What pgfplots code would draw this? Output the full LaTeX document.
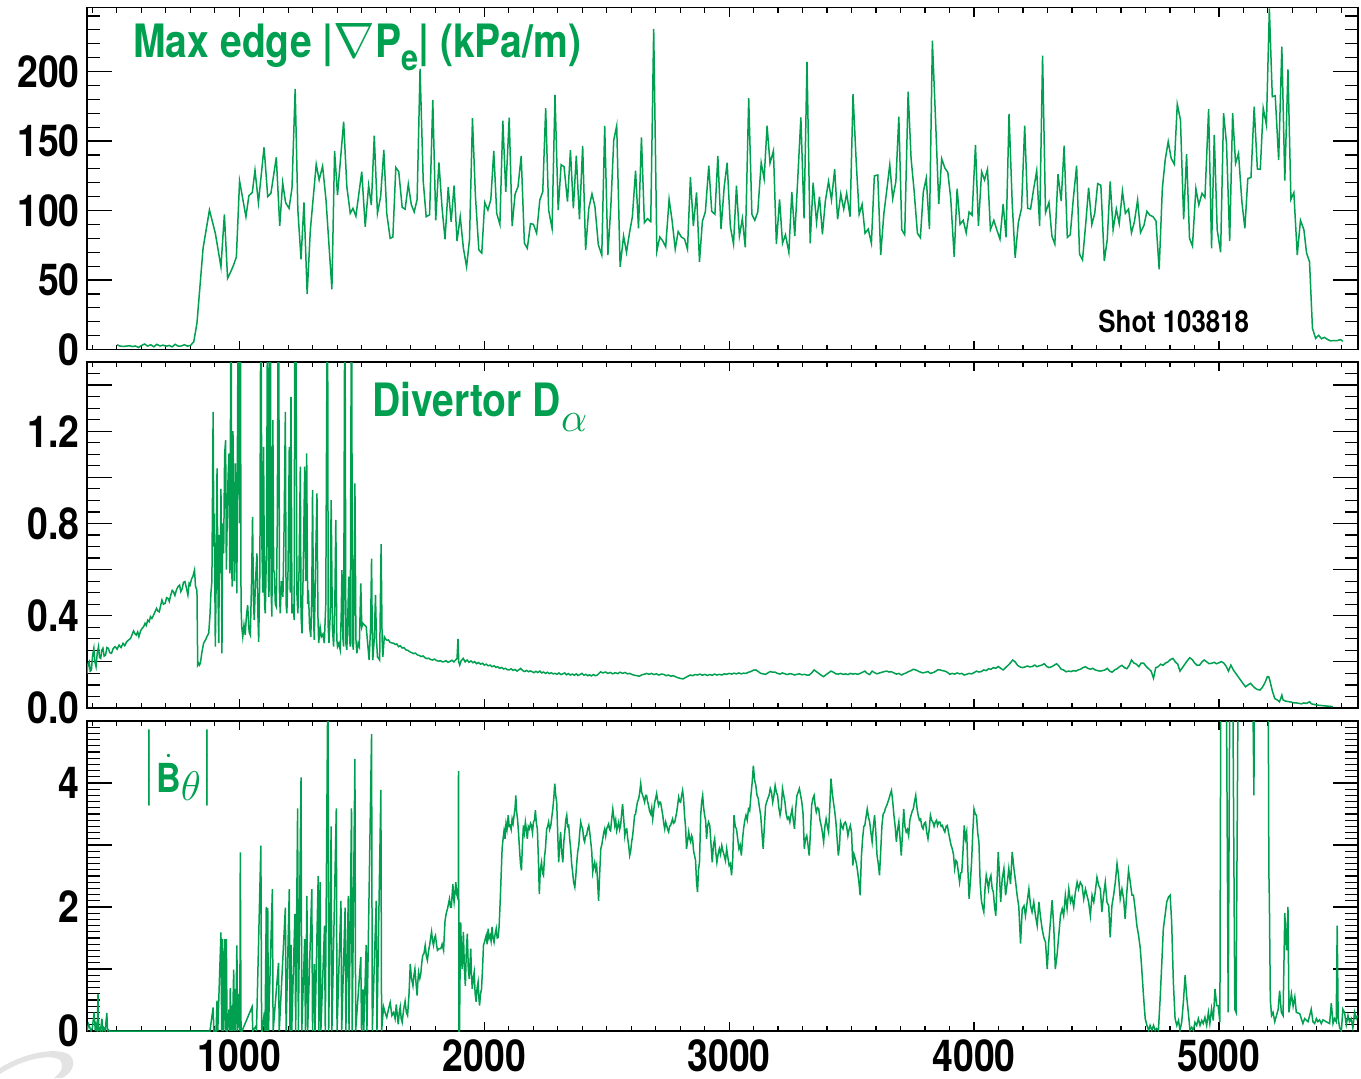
\documentclass[border=0pt]{standalone}
\usepackage{amsmath}
\usepackage{fontspec}
\setmainfont{TeX Gyre Heros}[FakeStretch=0.85]
\usepackage{pgfplots}
\pgfplotsset{compat=1.18}
\definecolor{dgreen}{RGB}{0,160,80}
\pgfplotsset{
  panel/.style={scale only axis, width=635.5pt, xmin=378, xmax=5568,
    xtick={1000,2000,3000,4000,5000}, minor xtick={400,500,...,5500},
    tick align=inside, xtick pos=both, ytick pos=both, ticklabel pos=left,
    axis line style={line width=0.8pt, black},
    x tick style={/pgfplots/major tick length=4.5pt,/pgfplots/minor tick length=2.5pt, line width=0.6pt, black},
    y tick style={/pgfplots/major tick length=12.5pt,/pgfplots/minor tick length=6.5pt, line width=0.6pt, black},
    ticklabel style={font=\fontsize{22}{24}\selectfont\bfseries},
    yticklabel style={inner sep=0pt, xshift=-3.5pt},
    xticklabel style={inner sep=0pt, yshift=-4pt},
  },
  trace/.style={dgreen, line width=0.75pt, mark=none},
}
\begin{document}
\begin{tikzpicture}
\path[use as bounding box] (0,0) rectangle (680.5pt,539pt);
% faint logo swoosh in the bottom-left corner
\fill[gray!22] (0pt,5pt) .. controls (14pt,14pt) and (33pt,16pt) .. (36pt,10pt)
  .. controls (38pt,6pt) and (35pt,2pt) .. (31pt,0pt) -- (27pt,0pt)
  .. controls (31pt,3pt) and (32pt,6pt) .. (30pt,9pt)
  .. controls (26pt,12pt) and (12pt,10pt) .. (0pt,2pt) -- cycle;
% ---------------- Panel 1 ----------------
\begin{axis}[panel, at={(43.5pt,364.2pt)}, anchor=south west, height=171pt,
  ymin=0, ymax=246, ytick={0,50,100,150,200}, yticklabels={0,50,100,150,200},
  minor ytick={10,20,...,240}, xticklabels={}]
\addplot[trace] table[row sep=\\] {
x y\\
501 3.5\\ 513 2.5\\ 526 2.3\\ 538 2.5\\ 551 2.8\\ 563 2.2\\ 576 2.6\\ 588 1.5\\ 601 3.0\\ 613 4.0\\
626 2.5\\ 638 3.5\\ 651 2.0\\ 663 3.8\\ 676 2.6\\ 688 3.2\\ 701 2.4\\ 713 3.0\\ 726 2.0\\ 738 3.8\\
751 2.4\\ 763 2.6\\ 776 3.5\\ 788 2.5\\ 801 3.0\\ 814 5.7\\ 827 19\\ 852 72.9\\ 878 100.4\\ 902 83.7\\
925 59.6\\ 939 97.3\\ 952 51.3\\ 965 56\\ 977 61\\ 988 66.8\\ 1001 121.3\\ 1027 95.6\\ 1039 110.7\\ 1053 113\\
1064 129\\ 1078 105.7\\ 1101 145.5\\ 1116 110\\ 1129 112.4\\ 1151 138.3\\ 1165 89\\ 1177 120\\ 1189 105.7\\ 1203 101.6\\
1215 116\\ 1228 187.5\\ 1239 100.4\\ 1252 65\\ 1264 105.9\\ 1277 40\\ 1290 86\\ 1314 133.3\\ 1326 122\\ 1340 132\\
1354 107.6\\ 1378 43.4\\ 1389 142.9\\ 1401 111.2\\ 1426 164\\ 1439 117.2\\ 1453 98\\ 1464 101.6\\ 1476 96\\ 1500 128\\
1514 88.4\\ 1528 118\\ 1539 104\\ 1551 153.9\\ 1564 98\\ 1577 110\\ 1590 143.6\\ 1602 98\\ 1616 80\\ 1627 81\\
1639 131\\ 1651 128\\ 1665 102.3\\ 1677 101\\ 1690 119\\ 1702 104.5\\ 1714 99\\ 1726 108\\ 1738 201.9\\ 1751 121\\
1763 95.6\\ 1777 97\\ 1790 179.6\\ 1802 93\\ 1815 134.7\\ 1828 101.6\\ 1840 79.4\\ 1853 116.8\\ 1865 92\\ 1877 118\\
1889 78\\ 1902 95.6\\ 1915 72.9\\ 1928 59.6\\ 1940 79.4\\ 1952 166.4\\ 1964 110.7\\ 1978 71.7\\ 1990 69.4\\ 2002 105.9\\
2015 100.4\\ 2027 108\\ 2039 142.9\\ 2051 98\\ 2064 90\\ 2076 164.7\\ 2088 113.5\\ 2102 166.9\\ 2114 88.8\\ 2126 111.8\\
2138 117.2\\ 2151 139.3\\ 2164 76.5\\ 2176 72.9\\ 2189 90.6\\ 2201 90.1\\ 2214 83.7\\ 2227 107.6\\ 2239 113.5\\ 2251 173.6\\
2263 100.4\\ 2277 87.2\\ 2289 183.2\\ 2302 100.4\\ 2314 133\\ 2326 131.5\\ 2340 106.4\\ 2352 143.4\\ 2364 101.6\\ 2376 139.5\\
2389 93.7\\ 2402 146.6\\ 2414 71.7\\ 2427 101.6\\ 2440 112\\ 2452 103\\ 2466 75.3\\ 2480 68\\ 2492 161\\ 2505 68\\
2517 102.8\\ 2529 150.8\\ 2541 161\\ 2555 59.6\\ 2569 81.7\\ 2581 70\\ 2593 83.7\\ 2605 95.6\\ 2618 128.7\\ 2630 87.2\\
2642 152.7\\ 2654 91.3\\ 2667 94.2\\ 2680 92\\ 2692 230.6\\ 2705 70.9\\ 2717 81\\ 2729 78.2\\ 2741 73.9\\ 2755 108.1\\
2767 93\\ 2780 72.2\\ 2792 84.9\\ 2805 81\\ 2818 79.5\\ 2830 72.2\\ 2842 124\\ 2854 88.8\\ 2867 113\\ 2879 63.2\\
2891 92.5\\ 2903 99\\ 2917 132.3\\ 2929 99.5\\ 2942 97.3\\ 2954 139.3\\ 2967 86.7\\ 2980 117.2\\ 2992 134.4\\ 3005 88.6\\
3018 75.9\\ 3030 118\\ 3042 81.7\\ 3054 94.2\\ 3066 73.5\\ 3080 180.8\\ 3093 97.3\\ 3105 93\\ 3117 99\\ 3131 134.4\\
3143 122.8\\ 3155 161\\ 3167 134\\ 3181 143\\ 3193 75.9\\ 3206 108.1\\ 3218 76.5\\ 3230 82.6\\ 3244 70\\ 3256 113.5\\
3268 81.7\\ 3280 122\\ 3293 167.1\\ 3306 94.4\\ 3318 206.9\\ 3331 76.5\\ 3343 120\\ 3357 91.6\\ 3369 110\\ 3381 83\\
3393 106.9\\ 3406 121\\ 3418 107.6\\ 3431 129.7\\ 3443 93.7\\ 3456 112\\ 3468 101\\ 3480 112.4\\ 3494 95.6\\ 3506 183.7\\
3519 135\\ 3531 97.3\\ 3543 104.5\\ 3555 83.7\\ 3568 86.7\\ 3581 76.5\\ 3593 124.9\\ 3607 125.6\\ 3619 68\\ 3632 98\\
3644 115\\ 3656 133\\ 3668 108.6\\ 3681 121\\ 3693 167.6\\ 3705 86.2\\ 3717 82.6\\ 3731 185.5\\ 3743 137.6\\ 3755 115\\
3769 83.7\\ 3781 80.5\\ 3793 113.5\\ 3805 123.3\\ 3818 86.7\\ 3830 222.2\\ 3843 165.2\\ 3856 104.7\\ 3868 137.3\\ 3881 130.6\\
3893 127.5\\ 3905 108.6\\ 3919 66.8\\ 3931 115.7\\ 3943 90.1\\ 3956 93\\ 3968 84\\ 3980 99\\ 3992 96.7\\ 4006 147.2\\
4018 89\\ 4031 128\\ 4043 122\\ 4055 129.7\\ 4067 86.2\\ 4081 93\\ 4093 86.2\\ 4106 79.4\\ 4119 104.7\\ 4131 80.7\\
4143 169.5\\ 4156 105.2\\ 4168 66.1\\ 4181 91.3\\ 4194 101.6\\ 4207 161\\ 4219 101.6\\ 4231 101.1\\ 4243 115\\ 4256 128.7\\
4268 88.8\\ 4280 211.4\\ 4292 98.5\\ 4306 105.9\\ 4318 81.7\\ 4330 75.9\\ 4343 126.1\\ 4356 106.8\\ 4368 146.7\\ 4381 80.7\\
4393 82.6\\ 4405 107.6\\ 4419 132.3\\ 4431 68.6\\ 4443 64.5\\ 4456 90.1\\ 4468 116.5\\ 4481 89.9\\ 4493 98\\ 4505 119.4\\
4518 118.2\\ 4532 63.7\\ 4544 79\\ 4556 121\\ 4568 86.2\\ 4581 101.1\\ 4593 90.6\\ 4606 114\\ 4618 98\\ 4631 101.1\\
4643 84\\ 4655 92\\ 4668 107.6\\ 4680 84.2\\ 4694 89.4\\ 4706 99.5\\ 4718 96.7\\ 4731 95.6\\ 4743 92.5\\ 4756 57.8\\
4769 116\\ 4781 136.9\\ 4793 149.6\\ 4805 137.6\\ 4818 133.3\\ 4830 176.5\\ 4843 165.2\\ 4856 93.7\\ 4868 140.5\\ 4880 80\\
4892 74.5\\ 4906 115.8\\ 4918 104\\ 4931 112.4\\ 4943 109.4\\ 4958 172.9\\ 4970 72.9\\ 4981 154.4\\ 4993 86.2\\ 5007 70\\
5019 170\\ 5031 148.4\\ 5044 78.2\\ 5056 170\\ 5068 134\\ 5080 141.2\\ 5094 105.9\\ 5106 87.2\\ 5118 123\\ 5131 123.8\\
5144 174.7\\ 5157 129.9\\ 5169 129.7\\ 5181 173.6\\ 5194 161.6\\ 5206 245.5\\ 5218 181.9\\ 5230 182.6\\ 5244 136.4\\ 5257 217.9\\
5269 121.5\\ 5282 201.6\\ 5294 108.1\\ 5306 112.9\\ 5320 68\\ 5333 93\\ 5347 86.2\\ 5358 69.4\\ 5370 63.2\\ 5382 15.3\\
5395 8.1\\ 5407 10.3\\ 5419 7.8\\ 5431 8.8\\ 5444 7.2\\ 5456 6.3\\ 5470 6.5\\ 5483 6.5\\ 5497 7.2\\ 5506 6\\
};
\node[anchor=base west, text=dgreen, inner sep=0pt] at (rel axis cs:0.0362,0.855)
  {\fontsize{23}{25}\selectfont\bfseries Max edge |$\nabla$P\raisebox{-0.28em}{\fontsize{18}{18}\selectfont e}| (kPa/m)};
\node[anchor=base west, text=black, inner sep=0pt] at (rel axis cs:0.7955,0.051)
  {\fontsize{15.2}{17}\selectfont\bfseries Shot 103818};
\end{axis}
% ---------------- Panel 2 ----------------
\begin{axis}[panel, at={(43.5pt,185pt)}, anchor=south west, height=173pt,
  ymin=0, ymax=1.5, ytick={0,0.2,0.4,0.6,0.8,1.0,1.2,1.4},
  yticklabels={0.0,,0.4,,0.8,,1.2,}, minor ytick={0.05,0.1,...,1.46}, xticklabels={}]
\addplot[trace] table[row sep=\\] {
x y\\
378 0.150\\ 382 0.19\\ 387 0.201\\ 391 0.16\\ 396 0.165\\ 401 0.23\\ 406 0.259\\ 410 0.20\\ 415 0.179\\ 420 0.24\\
425 0.266\\ 429 0.22\\ 434 0.215\\ 438 0.25\\ 443 0.259\\ 448 0.225\\ 454 0.230\\ 459 0.262\\ 465 0.259\\ 471 0.240\\
478 0.237\\ 485 0.258\\ 493 0.266\\ 501 0.255\\ 509 0.273\\ 517 0.262\\ 525 0.280\\ 532 0.270\\ 540 0.287\\ 548 0.295\\
556 0.302\\ 562 0.318\\ 568 0.334\\ 574 0.322\\ 579 0.316\\ 585 0.330\\ 590 0.309\\ 597 0.335\\ 603 0.345\\ 609 0.352\\
615 0.367\\ 620 0.358\\ 626 0.381\\ 632 0.374\\ 637 0.396\\ 643 0.388\\ 650 0.403\\ 656 0.418\\ 662 0.432\\ 668 0.420\\
673 0.417\\ 679 0.445\\ 684 0.468\\ 690 0.450\\ 697 0.454\\ 703 0.478\\ 709 0.475\\ 714 0.462\\ 720 0.490\\ 726 0.510\\
731 0.504\\ 737 0.488\\ 743 0.511\\ 749 0.525\\ 756 0.533\\ 761 0.505\\ 767 0.518\\ 772 0.545\\ 778 0.548\\ 784 0.520\\
790 0.490\\ 795 0.540\\ 799 0.533\\ 805 0.560\\ 810 0.569\\ 817 0.598\\ 821 0.530\\ 824 0.518\\ 827 0.511\\ 830 0.186\\
834 0.194\\ 837 0.186\\ 841 0.194\\ 847 0.240\\ 854 0.281\\ 862 0.295\\ 868 0.310\\ 875 0.324\\ 880 0.40\\ 884 0.497\\
888 0.55\\ 893 1.284\\ 896 0.70\\ 898 0.843\\ 902 0.266\\ 906 0.60\\ 909 1.039\\ 913 0.50\\ 916 0.281\\ 919 0.75\\
922 0.584\\ 925 0.95\\ 929 0.237\\ 932 0.80\\ 936 0.670\\ 940 1.10\\ 944 1.161\\ 947 0.60\\ 950 0.786\\ 954 1.00\\
958 1.104\\ 961 0.584\\ 963 0.90\\ 966 2.0\\ 969 0.60\\ 971 0.526\\ 974 1.20\\ 977 0.901\\ 980 0.55\\ 984 1.060\\
987 0.75\\ 990 0.497\\ 993 1.30\\ 997 2.0\\ 1000 0.80\\ 1004 2.0\\ 1007 0.439\\ 1010 0.35\\ 1014 0.309\\ 1019 0.36\\
1024 0.316\\ 1029 0.40\\ 1034 0.446\\ 1040 0.33\\ 1045 0.316\\ 1050 0.55\\ 1054 0.829\\ 1058 0.45\\ 1061 0.381\\ 1066 0.55\\
1072 0.670\\ 1076 0.40\\ 1079 0.287\\ 1084 0.60\\ 1088 2.0\\ 1092 0.720\\ 1096 0.50\\ 1099 1.132\\ 1103 0.45\\ 1106 0.410\\
1111 0.70\\ 1116 2.0\\ 1119 0.55\\ 1121 0.482\\ 1124 0.90\\ 1126 2.0\\ 1130 0.50\\ 1133 0.396\\ 1137 1.248\\ 1140 0.60\\
1143 0.584\\ 1147 0.45\\ 1151 0.439\\ 1155 0.80\\ 1160 2.0\\ 1164 0.50\\ 1167 0.410\\ 1172 0.55\\ 1178 0.482\\ 1183 0.80\\
1188 1.284\\ 1191 0.45\\ 1194 0.410\\ 1199 0.60\\ 1204 1.132\\ 1208 0.50\\ 1211 1.349\\ 1215 0.410\\ 1220 0.45\\ 1224 0.381\\
1227 2.0\\ 1230 2.0\\ 1235 0.50\\ 1239 0.410\\ 1244 0.60\\ 1249 1.046\\ 1252 0.40\\ 1256 0.324\\ 1261 0.60\\ 1267 1.046\\
1271 0.55\\ 1275 1.104\\ 1279 0.45\\ 1282 0.511\\ 1287 0.35\\ 1292 0.309\\ 1296 0.50\\ 1299 0.945\\ 1303 0.40\\ 1306 0.295\\
1311 0.60\\ 1317 0.930\\ 1321 0.40\\ 1324 0.281\\ 1330 0.35\\ 1335 0.309\\ 1341 0.32\\ 1347 0.281\\ 1353 0.45\\ 1360 2.0\\
1363 0.35\\ 1366 0.281\\ 1371 0.40\\ 1375 0.901\\ 1380 0.35\\ 1385 0.266\\ 1390 0.45\\ 1394 0.815\\ 1398 0.30\\ 1401 0.266\\
1406 0.28\\ 1412 0.252\\ 1416 0.40\\ 1419 0.598\\ 1423 0.30\\ 1426 0.266\\ 1431 2.0\\ 1435 0.28\\ 1439 0.252\\ 1443 0.40\\
1447 0.569\\ 1450 0.30\\ 1453 0.266\\ 1458 2.0\\ 1462 0.28\\ 1466 0.252\\ 1472 0.974\\ 1476 0.30\\ 1480 0.237\\ 1485 0.28\\
1490 0.266\\ 1496 0.540\\ 1500 0.35\\ 1505 0.367\\ 1511 0.36\\ 1518 0.353\\ 1524 0.28\\ 1530 0.208\\ 1536 0.35\\ 1540 0.648\\
1543 0.30\\ 1545 0.208\\ 1551 0.30\\ 1556 0.490\\ 1560 0.30\\ 1564 0.222\\ 1569 0.215\\ 1573 0.208\\ 1579 0.710\\ 1583 0.30\\
1586 0.222\\ 1592 0.309\\ 1597 0.300\\ 1602 0.294\\ 1609 0.295\\ 1615 0.285\\ 1622 0.282\\ 1630 0.281\\ 1637 0.275\\ 1643 0.278\\
1650 0.266\\ 1657 0.270\\ 1665 0.260\\ 1672 0.262\\ 1680 0.252\\ 1688 0.250\\ 1696 0.244\\ 1703 0.240\\ 1711 0.236\\ 1719 0.238\\
1727 0.230\\ 1735 0.228\\ 1742 0.223\\ 1750 0.226\\ 1758 0.218\\ 1766 0.214\\ 1773 0.216\\ 1781 0.210\\ 1789 0.208\\ 1797 0.212\\
1805 0.206\\ 1813 0.203\\ 1821 0.205\\ 1829 0.200\\ 1836 0.201\\ 1844 0.205\\ 1852 0.198\\ 1860 0.202\\ 1868 0.207\\ 1876 0.200\\
1883 0.208\\ 1889 0.215\\ 1893 0.300\\ 1896 0.200\\ 1900 0.186\\ 1906 0.205\\ 1914 0.215\\ 1922 0.200\\ 1930 0.208\\ 1938 0.198\\
1946 0.204\\ 1954 0.196\\ 1961 0.201\\ 1969 0.192\\ 1977 0.197\\ 1985 0.190\\ 1993 0.194\\ 2000 0.186\\ 2008 0.190\\ 2016 0.183\\
2024 0.186\\ 2032 0.179\\ 2040 0.183\\ 2048 0.176\\ 2055 0.179\\ 2063 0.172\\ 2071 0.176\\ 2079 0.169\\ 2087 0.172\\ 2094 0.166\\
2102 0.165\\ 2110 0.170\\ 2118 0.163\\ 2126 0.167\\ 2134 0.160\\ 2142 0.166\\ 2149 0.172\\ 2157 0.162\\ 2165 0.158\\ 2173 0.163\\
2181 0.157\\ 2188 0.161\\ 2195 0.158\\ 2203 0.153\\ 2211 0.159\\ 2219 0.154\\ 2227 0.160\\ 2235 0.152\\ 2242 0.156\\ 2250 0.150\\
2258 0.155\\ 2266 0.149\\ 2274 0.153\\ 2281 0.148\\ 2289 0.150\\ 2297 0.146\\ 2305 0.152\\ 2313 0.145\\ 2321 0.148\\ 2329 0.152\\
2336 0.144\\ 2344 0.149\\ 2352 0.143\\ 2360 0.147\\ 2368 0.142\\ 2376 0.148\\ 2383 0.141\\ 2391 0.145\\ 2399 0.150\\ 2407 0.142\\
2415 0.146\\ 2423 0.140\\ 2430 0.144\\ 2438 0.139\\ 2446 0.145\\ 2454 0.140\\ 2462 0.143\\ 2475 0.157\\ 2485 0.152\\ 2495 0.156\\
2505 0.150\\ 2515 0.154\\ 2525 0.148\\ 2535 0.153\\ 2545 0.149\\ 2555 0.155\\ 2565 0.150\\ 2575 0.154\\ 2585 0.148\\ 2594 0.150\\
2604 0.145\\ 2614 0.142\\ 2624 0.140\\ 2634 0.138\\ 2644 0.144\\ 2653 0.146\\ 2663 0.150\\ 2673 0.146\\ 2683 0.150\\ 2693 0.145\\
2703 0.148\\ 2713 0.143\\ 2723 0.147\\ 2733 0.146\\ 2743 0.140\\ 2752 0.143\\ 2762 0.138\\ 2772 0.140\\ 2782 0.135\\ 2792 0.131\\
2802 0.128\\ 2812 0.126\\ 2822 0.132\\ 2832 0.138\\ 2842 0.143\\ 2851 0.140\\ 2861 0.145\\ 2871 0.143\\ 2881 0.147\\ 2891 0.142\\
2901 0.146\\ 2911 0.141\\ 2921 0.145\\ 2931 0.142\\ 2941 0.147\\ 2950 0.143\\ 2960 0.146\\ 2970 0.143\\ 2980 0.148\\ 2990 0.146\\
3000 0.150\\ 3010 0.147\\ 3020 0.151\\ 3030 0.148\\ 3040 0.152\\ 3050 0.148\\ 3059 0.151\\ 3069 0.150\\ 3079 0.155\\ 3089 0.158\\
3099 0.164\\ 3109 0.165\\ 3119 0.158\\ 3129 0.150\\ 3139 0.148\\ 3149 0.146\\ 3158 0.152\\ 3168 0.158\\ 3178 0.155\\ 3188 0.155\\
3198 0.150\\ 3208 0.147\\ 3218 0.152\\ 3228 0.148\\ 3238 0.145\\ 3248 0.149\\ 3257 0.147\\ 3267 0.143\\ 3277 0.146\\ 3287 0.148\\
3297 0.144\\ 3307 0.146\\ 3317 0.143\\ 3327 0.143\\ 3337 0.152\\ 3347 0.165\\ 3356 0.158\\ 3366 0.150\\ 3376 0.142\\ 3386 0.136\\
3396 0.145\\ 3406 0.152\\ 3416 0.160\\ 3426 0.155\\ 3436 0.148\\ 3446 0.147\\ 3455 0.150\\ 3465 0.146\\ 3475 0.148\\ 3485 0.145\\
3495 0.150\\ 3505 0.147\\ 3515 0.149\\ 3525 0.146\\ 3535 0.150\\ 3545 0.155\\ 3554 0.160\\ 3564 0.150\\ 3574 0.145\\ 3584 0.160\\
3594 0.153\\ 3604 0.148\\ 3614 0.152\\ 3624 0.155\\ 3634 0.158\\ 3644 0.160\\ 3653 0.156\\ 3663 0.157\\ 3673 0.152\\ 3683 0.147\\
3693 0.150\\ 3703 0.143\\ 3713 0.148\\ 3723 0.152\\ 3733 0.158\\ 3743 0.162\\ 3752 0.168\\ 3762 0.165\\ 3772 0.160\\ 3782 0.155\\
3792 0.152\\ 3802 0.155\\ 3812 0.158\\ 3822 0.150\\ 3832 0.153\\ 3842 0.158\\ 3851 0.165\\ 3861 0.165\\ 3871 0.162\\ 3881 0.160\\
3891 0.155\\ 3901 0.146\\ 3911 0.150\\ 3921 0.147\\ 3931 0.152\\ 3941 0.148\\ 3950 0.150\\ 3960 0.143\\ 3970 0.146\\ 3980 0.150\\
3990 0.148\\ 4000 0.153\\ 4010 0.160\\ 4020 0.156\\ 4030 0.158\\ 4040 0.165\\ 4050 0.162\\ 4059 0.170\\ 4069 0.168\\ 4079 0.175\\
4089 0.172\\ 4099 0.180\\ 4109 0.172\\ 4119 0.165\\ 4129 0.175\\ 4139 0.185\\ 4148 0.195\\ 4158 0.208\\ 4168 0.200\\ 4178 0.185\\
4188 0.178\\ 4198 0.175\\ 4208 0.178\\ 4218 0.182\\ 4228 0.178\\ 4238 0.180\\ 4248 0.186\\ 4257 0.179\\ 4267 0.183\\ 4277 0.186\\
4287 0.192\\ 4297 0.180\\ 4307 0.175\\ 4317 0.179\\ 4327 0.185\\ 4337 0.192\\ 4346 0.183\\ 4356 0.168\\ 4366 0.165\\ 4376 0.157\\
4386 0.160\\ 4396 0.158\\ 4406 0.162\\ 4416 0.160\\ 4425 0.165\\ 4435 0.168\\ 4445 0.175\\ 4455 0.179\\ 4465 0.172\\ 4475 0.168\\
4485 0.172\\ 4495 0.165\\ 4505 0.162\\ 4515 0.160\\ 4525 0.162\\ 4535 0.165\\ 4544 0.172\\ 4554 0.160\\ 4564 0.155\\ 4574 0.165\\
4584 0.170\\ 4594 0.179\\ 4604 0.185\\ 4614 0.175\\ 4624 0.170\\ 4634 0.185\\ 4643 0.208\\ 4653 0.195\\ 4663 0.190\\ 4673 0.179\\
4683 0.195\\ 4693 0.194\\ 4703 0.180\\ 4713 0.170\\ 4723 0.160\\ 4733 0.129\\ 4742 0.175\\ 4752 0.179\\ 4762 0.190\\ 4772 0.185\\
4782 0.195\\ 4792 0.200\\ 4802 0.210\\ 4812 0.215\\ 4822 0.200\\ 4832 0.190\\ 4841 0.160\\ 4851 0.175\\ 4861 0.190\\ 4871 0.205\\
4881 0.218\\ 4891 0.210\\ 4901 0.195\\ 4911 0.185\\ 4921 0.186\\ 4931 0.200\\ 4940 0.208\\ 4950 0.200\\ 4960 0.192\\ 4970 0.194\\
4980 0.198\\ 4990 0.192\\ 5000 0.196\\ 5010 0.201\\ 5020 0.195\\ 5030 0.180\\ 5039 0.160\\ 5049 0.186\\ 5059 0.165\\ 5069 0.150\\
5079 0.135\\ 5089 0.120\\ 5099 0.105\\ 5109 0.092\\ 5119 0.100\\ 5129 0.107\\ 5139 0.095\\ 5149 0.085\\ 5158 0.080\\ 5168 0.078\\
5178 0.090\\ 5188 0.110\\ 5198 0.136\\ 5203 0.136\\ 5208 0.120\\ 5218 0.075\\ 5228 0.041\\ 5238 0.035\\ 5247 0.027\\ 5252 0.040\\
5257 0.056\\ 5262 0.035\\ 5272 0.030\\ 5287 0.027\\ 5297 0.025\\ 5307 0.022\\ 5317 0.022\\ 5327 0.020\\ 5337 0.018\\ 5347 0.022\\
5357 0.020\\ 5370 0.027\\ 5378 0.018\\ 5386 0.016\\ 5396 0.014\\ 5406 0.012\\ 5416 0.011\\ 5426 0.010\\ 5436 0.009\\ 5446 0.008\\
5456 0.007\\ 5465 0.006\\
};
\node[anchor=base west, text=dgreen, inner sep=0pt] at (rel axis cs:0.2242,0.843)
  {\fontsize{23}{25}\selectfont\bfseries Divertor D\raisebox{-0.32em}{\fontsize{22}{22}\selectfont$\alpha$}};
\end{axis}
% ---------------- Panel 3 ----------------
\begin{axis}[panel, at={(43.5pt,23.5pt)}, anchor=south west, height=155pt,
  ymin=0, ymax=5, ytick={0,1,2,3,4,5}, yticklabels={0,,2,,4,},
  minor ytick={0.1,0.2,...,4.95}, xticklabels={1000,2000,3000,4000,5000}]
\addplot[trace] table[row sep=\\] {
x y\\
378 0.0\\ 384 0.11\\ 395 0.0\\ 400 0.05\\ 407 0.30\\ 412 0.0\\ 415 0.09\\ 420 0.0\\ 423 0.60\\ 426 0.0\\
428 0.05\\ 433 0.0\\ 439 0.20\\ 442 0.0\\ 446 0.05\\ 452 0.0\\ 459 0.29\\ 462 0.0\\ 465 0.02\\ 470 0.0\\
880 0.0\\ 893 0.38\\ 896 0.0\\ 905 0.0\\ 909 0.49\\ 912 0.0\\ 925 1.59\\ 928 0.0\\ 931 1.48\\ 934 0.0\\
936 0.05\\ 940 1.48\\ 944 0.0\\ 947 1.48\\ 950 0.0\\ 952 0.02\\ 958 0.35\\ 961 0.0\\ 963 0.69\\ 966 0.0\\
969 0.41\\ 972 0.0\\ 977 0.99\\ 980 0.0\\ 982 0.68\\ 985 0.0\\ 990 1.38\\ 993 0.0\\ 999 0.60\\ 1002 0.0\\
1004 2.88\\ 1007 0.0\\ 1011 0.0\\ 1052 0.39\\ 1055 0.0\\ 1068 0.08\\ 1070 0.0\\ 1088 2.99\\ 1091 0.0\\ 1094 0.0\\
1102 0.30\\ 1105 0.0\\ 1110 2.0\\ 1113 0.0\\ 1116 1.98\\ 1119 0.0\\ 1135 2.29\\ 1138 0.0\\ 1160 1.10\\ 1163 0.0\\
1188 1.99\\ 1191 0.0\\ 1204 2.29\\ 1207 0.0\\ 1211 1.39\\ 1214 0.0\\ 1227 1.89\\ 1230 0.0\\ 1238 3.59\\ 1241 0.0\\
1252 4.09\\ 1255 0.0\\ 1267 1.48\\ 1270 0.0\\ 1276 2.18\\ 1279 0.0\\ 1296 2.29\\ 1299 0.0\\ 1306 1.08\\ 1309 0.0\\
1322 2.50\\ 1325 0.0\\ 1330 2.40\\ 1333 0.0\\ 1348 1.70\\ 1351 0.0\\ 1362 6.0\\ 1365 0.0\\ 1375 3.30\\ 1378 0.0\\
1396 3.59\\ 1399 0.0\\ 1415 2.10\\ 1418 0.0\\ 1432 1.99\\ 1435 0.0\\ 1445 2.18\\ 1448 0.0\\ 1458 3.59\\ 1461 0.0\\
1472 4.39\\ 1475 0.0\\ 1496 1.19\\ 1499 0.0\\ 1505 0.67\\ 1508 0.0\\ 1518 1.39\\ 1521 0.0\\ 1540 4.79\\ 1543 0.0\\
1559 2.10\\ 1562 0.0\\ 1578 3.89\\ 1581 0.0\\ 1585 0.2\\ 1589 0.39\\ 1595 0.30\\ 1602 0.22\\ 1609 0.35\\ 1616 0.46\\
1623 0.25\\ 1630 0.30\\ 1636 0.20\\ 1641 0.43\\ 1645 0.25\\ 1649 0.11\\ 1653 0.30\\ 1657 0.39\\ 1661 0.20\\ 1665 0.14\\
1671 0.35\\ 1677 0.48\\ 1682 0.30\\ 1687 0.25\\ 1693 0.60\\ 1698 1.08\\ 1703 0.85\\ 1709 0.73\\ 1713 0.90\\ 1717 1.00\\
1722 0.75\\ 1726 0.57\\ 1729 0.80\\ 1732 0.95\\ 1737 0.85\\ 1741 0.92\\ 1745 1.10\\ 1749 1.22\\ 1754 1.25\\ 1759 1.38\\
1764 1.20\\ 1768 1.14\\ 1773 1.30\\ 1777 1.38\\ 1781 1.50\\ 1785 1.60\\ 1789 1.45\\ 1793 1.38\\ 1797 1.50\\ 1801 1.54\\
1805 1.40\\ 1809 1.30\\ 1816 1.33\\ 1823 1.33\\ 1828 1.40\\ 1834 1.30\\ 1837 1.55\\ 1840 1.78\\ 1845 1.90\\ 1850 1.97\\
1854 2.05\\ 1858 2.13\\ 1862 2.00\\ 1866 2.00\\ 1869 2.20\\ 1872 2.37\\ 1875 2.15\\ 1877 2.08\\ 1881 2.25\\ 1884 2.40\\
1888 2.20\\ 1891 2.16\\ 1894 2.30\\ 1895 4.19\\ 1897 0.0\\ 1899 0.0\\ 1902 1.2\\ 1904 1.75\\ 1907 1.20\\ 1910 1.00\\
1913 1.40\\ 1915 1.60\\ 1919 1.00\\ 1923 0.73\\ 1927 1.30\\ 1931 1.57\\ 1935 1.00\\ 1939 0.84\\ 1942 1.10\\ 1945 1.33\\
1948 0.90\\ 1951 0.68\\ 1955 0.85\\ 1959 0.95\\ 1963 0.60\\ 1967 0.47\\ 1971 0.70\\ 1975 0.79\\ 1978 0.55\\ 1981 0.41\\
1985 0.60\\ 1989 0.68\\ 1993 1.00\\ 1997 1.38\\ 2002 1.45\\ 2008 1.54\\ 2012 1.40\\ 2016 1.65\\ 2020 1.50\\ 2024 1.54\\
2028 1.45\\ 2032 1.68\\ 2036 1.50\\ 2040 1.43\\ 2044 1.55\\ 2049 1.65\\ 2053 1.50\\ 2057 1.51\\ 2061 1.70\\ 2065 2.07\\
2069 2.50\\ 2073 2.94\\ 2077 3.10\\ 2081 3.23\\ 2085 3.10\\ 2089 3.34\\ 2093 3.25\\ 2098 3.48\\ 2102 3.30\\ 2106 3.315\\
2110 3.25\\ 2114 3.42\\ 2118 3.35\\ 2122 3.48\\ 2126 3.60\\ 2129 3.80\\ 2132 3.55\\ 2136 3.42\\ 2140 3.20\\ 2144 2.94\\
2148 2.70\\ 2152 2.59\\ 2156 3.00\\ 2160 3.315\\ 2164 3.20\\ 2168 3.37\\ 2172 3.25\\ 2176 3.10\\ 2180 3.30\\ 2185 3.26\\
2189 3.35\\ 2193 3.315\\ 2197 3.20\\ 2201 3.37\\ 2205 3.40\\ 2209 3.56\\ 2213 3.35\\ 2217 3.26\\ 2221 2.80\\ 2225 2.21\\
2229 2.60\\ 2234 2.72\\ 2238 2.55\\ 2242 2.51\\ 2246 2.80\\ 2250 2.94\\ 2255 3.26\\ 2259 3.30\\ 2263 3.37\\ 2267 3.25\\
2272 3.315\\ 2276 3.45\\ 2280 3.58\\ 2284 3.75\\ 2288 3.99\\ 2292 3.80\\ 2296 3.69\\ 2300 3.20\\ 2304 2.72\\ 2308 3.00\\
2312 3.21\\ 2316 2.90\\ 2321 2.72\\ 2325 3.05\\ 2329 3.21\\ 2333 3.40\\ 2337 3.48\\ 2341 3.30\\ 2345 3.315\\ 2349 3.10\\
2353 2.94\\ 2357 2.70\\ 2361 2.56\\ 2365 2.40\\ 2370 2.32\\ 2374 2.50\\ 2378 2.72\\ 2382 2.90\\ 2386 2.99\\ 2390 3.20\\
2394 3.37\\ 2398 3.30\\ 2402 3.26\\ 2406 3.10\\ 2410 3.05\\ 2414 3.15\\ 2418 3.15\\ 2422 3.25\\ 2427 3.315\\ 2431 3.20\\
2435 3.05\\ 2439 2.90\\ 2443 2.56\\ 2447 2.65\\ 2451 2.72\\ 2455 2.60\\ 2459 2.67\\ 2463 2.40\\ 2467 2.10\\ 2471 2.50\\
2476 2.94\\ 2480 3.00\\ 2484 3.10\\ 2488 3.20\\ 2492 3.26\\ 2496 3.15\\ 2500 3.26\\ 2504 3.30\\ 2508 3.34\\ 2512 3.25\\
2516 3.23\\ 2520 3.40\\ 2525 3.58\\ 2529 3.45\\ 2533 3.315\\ 2537 3.40\\ 2541 3.23\\ 2545 3.30\\ 2549 3.37\\ 2553 3.25\\
2557 3.315\\ 2561 3.50\\ 2565 3.66\\ 2570 3.40\\ 2574 3.15\\ 2578 3.25\\ 2582 3.26\\ 2586 3.10\\ 2590 2.99\\ 2594 2.83\\
2598 2.90\\ 2602 3.05\\ 2606 3.15\\ 2610 3.30\\ 2614 3.48\\ 2618 3.50\\ 2622 3.61\\ 2626 3.70\\ 2631 3.75\\ 2635 3.85\\
2639 3.99\\ 2643 3.85\\ 2647 3.80\\ 2651 3.75\\ 2655 3.69\\ 2659 3.80\\ 2663 3.80\\ 2667 3.70\\ 2671 3.64\\ 2675 3.55\\
2680 3.50\\ 2684 3.60\\ 2688 3.42\\ 2692 3.55\\ 2696 3.69\\ 2700 3.75\\ 2704 3.83\\ 2708 3.72\\ 2712 3.64\\ 2716 3.69\\
2720 3.69\\ 2724 3.60\\ 2729 3.48\\ 2733 3.35\\ 2737 3.26\\ 2741 3.37\\ 2745 3.315\\ 2749 3.25\\ 2753 3.21\\ 2757 3.30\\
2761 3.315\\ 2765 3.37\\ 2769 3.42\\ 2773 3.35\\ 2778 3.37\\ 2782 3.45\\ 2786 3.53\\ 2790 3.65\\ 2794 3.77\\ 2798 3.70\\
2802 3.69\\ 2806 3.80\\ 2810 3.88\\ 2814 3.75\\ 2818 3.48\\ 2822 3.30\\ 2826 2.94\\ 2830 3.05\\ 2835 3.21\\ 2839 3.10\\
2843 3.05\\ 2847 3.15\\ 2851 3.10\\ 2855 2.90\\ 2859 2.83\\ 2863 2.75\\ 2867 2.40\\ 2871 2.24\\ 2875 2.60\\ 2879 2.72\\
2884 3.48\\ 2888 3.70\\ 2892 3.80\\ 2896 3.60\\ 2900 3.48\\ 2904 3.40\\ 2908 3.10\\ 2912 3.30\\ 2916 3.37\\ 2921 3.315\\
2931 2.72\\ 2936 3.00\\ 2941 3.10\\ 2945 2.90\\ 2950 2.72\\ 2955 2.85\\ 2960 2.94\\ 2965 2.85\\ 2970 2.99\\ 2975 2.90\\
2980 2.83\\ 2985 2.75\\ 2990 2.94\\ 2995 2.80\\ 3000 2.67\\ 3005 2.70\\ 3010 2.51\\ 3015 2.80\\ 3020 3.48\\ 3025 3.30\\
3030 3.26\\ 3035 3.10\\ 3040 2.94\\ 3045 3.00\\ 3050 2.83\\ 3055 3.10\\ 3059 3.26\\ 3064 3.40\\ 3069 3.48\\ 3074 3.40\\
3079 3.58\\ 3084 3.55\\ 3089 3.80\\ 3094 4.00\\ 3099 4.28\\ 3104 4.05\\ 3109 3.96\\ 3114 3.80\\ 3119 3.75\\ 3124 3.60\\
3129 3.48\\ 3134 3.20\\ 3139 2.94\\ 3144 3.30\\ 3149 3.64\\ 3154 3.70\\ 3158 3.75\\ 3163 3.80\\ 3168 3.91\\ 3173 3.85\\
3178 3.69\\ 3183 3.80\\ 3188 3.96\\ 3193 3.85\\ 3198 3.80\\ 3203 3.60\\ 3208 3.48\\ 3213 3.60\\ 3218 3.91\\ 3223 3.80\\
3228 3.69\\ 3233 3.50\\ 3238 3.42\\ 3243 3.45\\ 3248 3.37\\ 3253 3.50\\ 3257 3.58\\ 3262 3.40\\ 3267 3.26\\ 3272 3.60\\
3277 3.80\\ 3282 3.85\\ 3287 3.91\\ 3292 3.80\\ 3297 3.69\\ 3302 3.50\\ 3307 2.94\\ 3312 3.10\\ 3317 3.15\\ 3322 3.00\\
3327 2.83\\ 3332 3.20\\ 3337 3.64\\ 3342 3.75\\ 3347 3.80\\ 3351 3.65\\ 3356 3.53\\ 3361 3.60\\ 3366 3.58\\ 3371 3.40\\
3376 3.315\\ 3381 3.20\\ 3386 3.05\\ 3391 3.30\\ 3396 3.42\\ 3401 3.30\\ 3406 3.21\\ 3411 3.60\\ 3416 4.07\\ 3421 3.85\\
3426 3.69\\ 3431 3.55\\ 3436 3.37\\ 3441 3.10\\ 3446 2.83\\ 3451 3.00\\ 3455 3.37\\ 3460 3.30\\ 3465 3.26\\ 3470 3.35\\
3475 3.37\\ 3480 3.30\\ 3485 3.15\\ 3490 3.25\\ 3495 3.315\\ 3500 3.20\\ 3505 2.67\\ 3510 2.85\\ 3515 2.78\\ 3520 2.70\\
3525 2.56\\ 3530 2.40\\ 3535 2.19\\ 3540 2.80\\ 3545 3.10\\ 3550 3.30\\ 3554 3.315\\ 3559 3.45\\ 3564 3.58\\ 3569 3.45\\
3574 3.37\\ 3579 3.20\\ 3584 3.05\\ 3589 3.30\\ 3594 3.48\\ 3599 3.20\\ 3604 2.83\\ 3609 2.70\\ 3614 2.51\\ 3619 2.90\\
3624 3.315\\ 3629 3.50\\ 3634 3.53\\ 3639 3.60\\ 3644 3.64\\ 3649 3.70\\ 3653 3.75\\ 3658 3.82\\ 3663 3.88\\ 3668 3.70\\
3673 3.48\\ 3678 3.30\\ 3683 3.05\\ 3688 3.25\\ 3693 3.37\\ 3698 3.10\\ 3703 2.83\\ 3713 3.58\\ 3718 3.30\\ 3723 3.21\\
3728 3.25\\ 3733 3.15\\ 3738 3.40\\ 3743 3.48\\ 3748 3.55\\ 3752 3.58\\ 3757 3.70\\ 3762 3.80\\ 3767 3.60\\ 3772 3.48\\
3777 3.40\\ 3782 3.42\\ 3787 3.30\\ 3792 3.26\\ 3797 3.35\\ 3802 3.37\\ 3807 3.20\\ 3812 3.10\\ 3817 3.25\\ 3822 3.48\\
3827 3.40\\ 3832 3.37\\ 3837 3.30\\ 3842 3.37\\ 3847 3.40\\ 3851 3.315\\ 3856 3.37\\ 3861 3.37\\ 3866 3.30\\ 3871 3.315\\
3876 3.25\\ 3881 3.21\\ 3886 3.30\\ 3891 3.315\\ 3896 3.20\\ 3901 3.10\\ 3906 3.00\\ 3911 2.94\\ 3916 2.85\\ 3921 2.62\\
3926 2.75\\ 3931 2.72\\ 3936 2.56\\ 3941 2.40\\ 3946 2.55\\ 3950 2.56\\ 3955 2.90\\ 3960 3.315\\ 3965 3.10\\ 3970 3.21\\
3975 2.60\\ 3980 2.13\\ 3985 2.40\\ 3990 2.72\\ 3995 3.20\\ 4000 3.58\\ 4005 3.50\\ 4010 3.48\\ 4015 3.20\\ 4020 3.05\\
4025 2.40\\ 4030 2.11\\ 4035 2.00\\ 4040 1.92\\ 4045 2.30\\ 4050 2.51\\ 4055 2.40\\ 4059 2.29\\ 4064 2.45\\ 4069 2.51\\
4074 2.30\\ 4079 2.24\\ 4084 2.00\\ 4089 1.86\\ 4094 2.40\\ 4099 2.89\\ 4104 2.50\\ 4109 2.08\\ 4115 2.45\\ 4122 2.62\\
4129 2.19\\ 4136 2.40\\ 4142 2.62\\ 4149 2.37\\ 4156 2.89\\ 4163 2.62\\ 4170 2.40\\ 4176 2.19\\ 4183 2.00\\ 4190 1.41\\
4197 1.97\\ 4204 2.02\\ 4210 1.86\\ 4217 2.08\\ 4224 2.29\\ 4231 2.02\\ 4237 1.92\\ 4244 2.08\\ 4251 1.86\\ 4258 1.70\\
4265 2.08\\ 4271 1.86\\ 4278 1.65\\ 4285 1.51\\ 4292 1.43\\ 4299 1.00\\ 4305 1.43\\ 4312 1.76\\ 4319 2.11\\ 4326 1.65\\
4332 1.00\\ 4339 1.22\\ 4346 1.54\\ 4353 1.86\\ 4360 1.97\\ 4366 1.86\\ 4373 2.19\\ 4380 1.97\\ 4387 2.29\\ 4394 2.08\\
4400 2.16\\ 4407 1.999\\ 4414 2.24\\ 4421 2.40\\ 4427 2.29\\ 4434 2.40\\ 4441 2.35\\ 4448 2.13\\ 4455 2.29\\ 4461 2.19\\
4468 2.08\\ 4475 1.86\\ 4482 2.19\\ 4489 2.08\\ 4495 2.24\\ 4502 2.48\\ 4509 2.35\\ 4516 2.29\\ 4522 1.92\\ 4529 2.19\\
4536 2.40\\ 4543 2.08\\ 4550 2.02\\ 4556 1.51\\ 4563 2.02\\ 4570 2.19\\ 4577 2.40\\ 4584 2.70\\ 4590 2.51\\ 4597 2.13\\
4604 2.29\\ 4611 2.13\\ 4617 1.81\\ 4624 2.24\\ 4631 2.59\\ 4638 2.40\\ 4645 2.19\\ 4651 2.19\\ 4658 1.97\\ 4665 1.70\\
4672 1.54\\ 4679 1.33\\ 4685 1.00\\ 4692 0.57\\ 4699 0.20\\ 4706 0.09\\ 4713 0.01\\ 4719 0.09\\ 4726 0.01\\ 4733 0.09\\
4740 0.01\\ 4746 0.04\\ 4753 0.01\\ 4760 0.52\\ 4767 1.11\\ 4773 1.65\\ 4780 1.86\\ 4787 2.08\\ 4794 2.16\\ 4801 2.19\\
4807 1.76\\ 4814 0.79\\ 4821 0.20\\ 4828 0.09\\ 4835 0.17\\ 4841 0.01\\ 4848 0.14\\ 4855 0.47\\ 4862 0.90\\ 4868 0.57\\
4875 0.30\\ 4882 0.01\\ 4889 0.06\\ 4896 0.01\\ 4902 0.14\\ 4909 0.09\\ 4916 0.20\\ 4923 0.09\\ 4930 0.17\\ 4936 0.12\\
4943 0.22\\ 4950 0.09\\ 4957 0.30\\ 4963 0.12\\ 4970 0.36\\ 4977 0.17\\ 4984 0.68\\ 4991 0.41\\ 4997 0.41\\ 5004 0.14\\
5008 6.0\\ 5030 6.0\\ 5038 0.30\\ 5045 6.0\\ 5056 6.0\\ 5065 0.35\\ 5070 0.30\\ 5079 6.0\\ 5137 6.0\\ 5143 3.80\\
5145 6.0\\ 5201 6.0\\ 5204 2.56\\ 5206 2.13\\ 5210 0.50\\ 5215 0.25\\ 5221 0.30\\ 5228 0.15\\ 5235 0.25\\ 5242 0.35\\
5248 0.65\\ 5255 0.30\\ 5262 0.25\\ 5269 1.90\\ 5276 1.30\\ 5282 2.00\\ 5286 0.30\\ 5296 0.60\\ 5303 0.40\\ 5310 0.55\\
5316 0.30\\ 5330 0.28\\ 5343 0.12\\ 5350 0.20\\ 5364 0.15\\ 5377 0.35\\ 5384 0.15\\ 5391 0.12\\ 5398 0.20\\ 5404 0.15\\
5411 0.18\\ 5418 0.12\\ 5425 0.18\\ 5438 0.15\\ 5452 0.12\\ 5459 0.45\\ 5466 0.12\\ 5472 0.20\\ 5479 0.15\\ 5483 1.70\\
5487 0.20\\ 5493 0.05\\ 5500 0.0\\ 5506 0.35\\ 5513 0.30\\ 5520 0.10\\ 5527 0.25\\ 5533 0.15\\ 5540 0.20\\ 5547 0.05\\
5554 0.30\\ 5561 0.20\\ 5567 0.25\\
};
\node[anchor=base west, text=dgreen, inner sep=0pt] at (rel axis cs:0.0433,0.769)
  {\fontsize{20}{21}\selectfont\raisebox{7pt}{$\Big|$}$\dot{\text{\bfseries B}}$\raisebox{-4pt}{$\theta$}\raisebox{7pt}{$\Big|$}};
\end{axis}
\end{tikzpicture}
\end{document}
